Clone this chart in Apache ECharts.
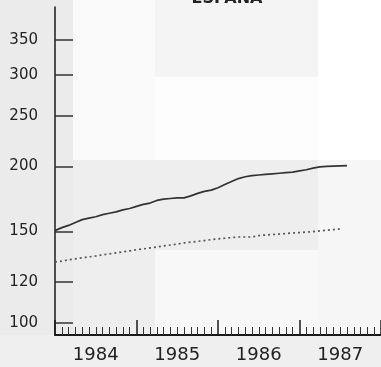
<!DOCTYPE html>
<html>
<head>
<meta charset="utf-8">
<script src="https://cdn.jsdelivr.net/npm/echarts@6/dist/echarts.min.js"></script>
<style>
html,body{margin:0;padding:0;background:#f1f1f1;}
#c{width:381px;height:367px;}
</style>
</head>
<body>
<div id="c"></div>
<script>
// Months from Jan 1984 (index 0)
const yearLabels = ['1984', '1985', '1986', '1987'];
const yTickValues = [100, 120, 150, 200, 250, 300, 350];
const solidValues = [150.5, 152.5, 154, 156, 158, 159, 160, 161.5, 162.5, 163.5, 165, 166,
  167.5, 169, 170, 172, 173, 173.5, 174, 174, 175.5, 177.5, 179, 180,
  182, 184.5, 187, 189.5, 191, 192, 192.5, 193, 193.5, 194, 194.5, 195,
  196, 197, 198.5, 199.5, 200, 200.3, 200.5, 200.6];
const dottedValues = [131, 131.5, 132.3, 132.8, 133.4, 134, 134.5, 135.2, 135.8, 136.4, 137, 137.6,
  138.3, 138.8, 139.4, 140, 140.6, 141.2, 141.8, 142.5, 143, 143.5, 144, 144.6,
  145.1, 145.5, 145.9, 146.3, 146.3, 146.3, 147.2, 147.6, 147.9, 148.2, 148.6, 148.9,
  149.2, 149.5, 149.8, 150.3, 150.8, 151.2, 151.6];

const solidData = solidValues.map((v, i) => [i, v]);
const dottedData = dottedValues.map((v, i) => [i, v]);

const chart = echarts.init(document.getElementById('c'), null, {renderer: 'canvas'});
chart.setOption({
  backgroundColor: '#f1f1f1',
  animation: false,
  graphic: [
    {type: 'rect', z: -10, shape: {x: 0, y: 0, width: 73, height: 335}, style: {fill: '#ebebeb'}},
    {type: 'rect', z: -10, shape: {x: 73, y: 0, width: 82, height: 160}, style: {fill: '#fafafa'}},
    {type: 'rect', z: -10, shape: {x: 155, y: 0, width: 163, height: 77}, style: {fill: '#f4f4f4'}},
    {type: 'rect', z: -10, shape: {x: 155, y: 77, width: 163, height: 83}, style: {fill: '#fdfdfd'}},
    {type: 'rect', z: -10, shape: {x: 318, y: 0, width: 63, height: 160}, style: {fill: '#ffffff'}},
    {type: 'rect', z: -10, shape: {x: 73, y: 160, width: 245, height: 90}, style: {fill: '#eeeeee'}},
    {type: 'rect', z: -10, shape: {x: 318, y: 160, width: 63, height: 175}, style: {fill: '#f6f6f6'}},
    {type: 'rect', z: -10, shape: {x: 73, y: 250, width: 82, height: 85}, style: {fill: '#eeeeee'}},
    {type: 'rect', z: -10, shape: {x: 155, y: 250, width: 163, height: 85}, style: {fill: '#f8f8f8'}},
    {type: 'rect', z: -10, shape: {x: 0, y: 335, width: 381, height: 32}, style: {fill: '#efefef'}}
  ],
  title: {
    text: 'ESPAÑA',
    left: 222,
    textAlign: 'center',
    top: -14,
    textStyle: {fontFamily: 'DejaVu Sans', fontSize: 16, fontWeight: 'bold', color: '#222'}
  },
  grid: {left: 55, right: 0, top: 7, bottom: 32, containLabel: false},
  xAxis: {
    type: 'value',
    min: 0,
    max: 48,
    interval: 12,
    splitLine: {show: false},
    axisLine: {show: true, onZero: false, lineStyle: {color: '#1a1a1a', width: 2}},
    axisTick: {show: true, inside: true, length: 15, lineStyle: {color: '#1a1a1a', width: 1.5}},
    minorTick: {show: true, splitNumber: 12, length: 8, lineStyle: {color: '#333', width: 1}},
    axisLabel: {
      customValues: [6, 18, 30, 42],
      formatter: v => yearLabels[Math.round((v - 6) / 12)],
      margin: 11,
      fontFamily: 'DejaVu Sans',
      fontSize: 18,
      color: '#222'
    }
  },
  yAxis: {
    type: 'log',
    min: 94.8,
    max: 405,
    splitLine: {show: false},
    axisLine: {show: true, onZero: false, lineStyle: {color: '#1a1a1a', width: 1.5}},
    axisTick: {show: true, inside: true, length: 18, customValues: yTickValues, lineStyle: {color: '#333', width: 1.5}},
    axisLabel: {
      customValues: yTickValues,
      margin: 17,
      fontFamily: 'DejaVu Sans',
      fontSize: 15,
      color: '#222'
    }
  },
  series: [
    {
      type: 'line',
      data: solidData,
      showSymbol: false,
      lineStyle: {color: '#333', width: 1.7}
    },
    {
      type: 'line',
      data: dottedData,
      showSymbol: false,
      lineStyle: {color: '#555', width: 1.7, type: [2, 3]}
    }
  ]
});
</script>
</body>
</html>
